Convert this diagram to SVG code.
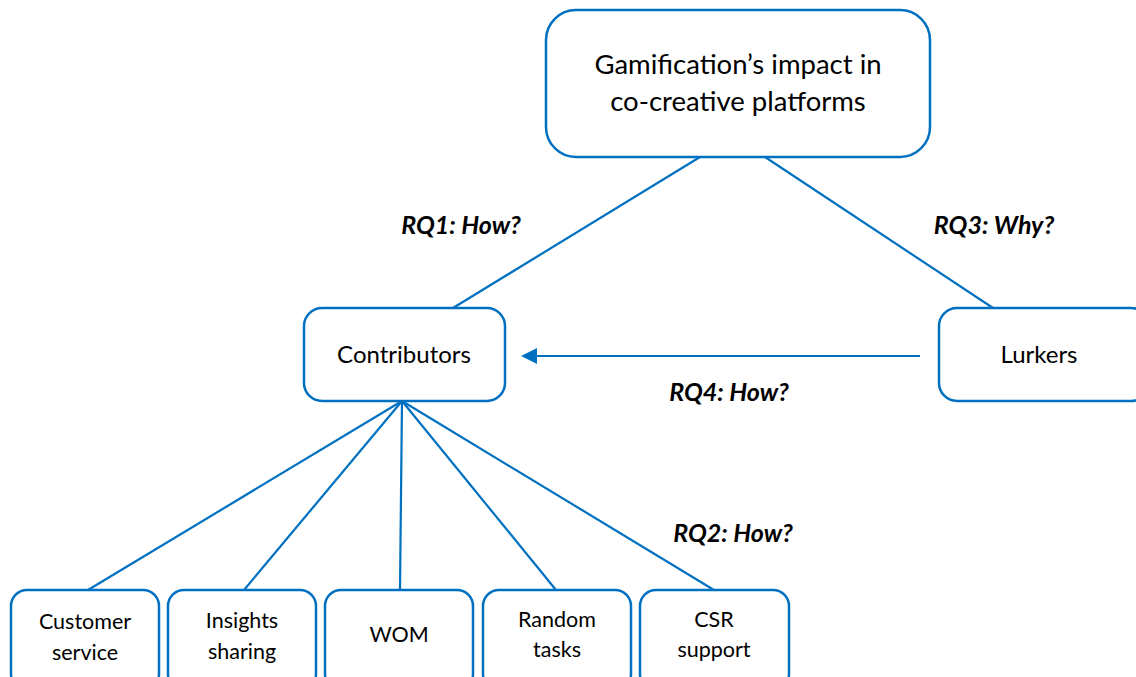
<svg xmlns="http://www.w3.org/2000/svg" width="1136" height="677" viewBox="0 0 1136 677">
  <style>
    .box { fill: #ffffff; stroke: #0070C0; stroke-width: 2.5; }
    .link { stroke: #0070C0; stroke-width: 2.2; fill: none; }
    .t { font-family: Lato, "Liberation Sans", sans-serif; fill: #000000; text-anchor: middle; }
    .rq { font-family: Lato, "Liberation Sans", sans-serif; font-weight: bold; font-style: italic; font-size: 25px; fill: #000000; text-anchor: middle; }
  </style>
  <rect width="1136" height="677" fill="#ffffff"/>

  <g id="connectors">
    <line class="link" x1="700" y1="157" x2="453" y2="308"/>
    <line class="link" x1="765" y1="157" x2="993" y2="308"/>
    <line class="link" x1="920" y1="356" x2="530" y2="356"/>
    <path d="M521,356 L537,348 L537,364 Z" fill="#0070C0"/>
    <line class="link" x1="402" y1="401" x2="88" y2="590"/>
    <line class="link" x1="402" y1="401" x2="244" y2="590"/>
    <line class="link" x1="402" y1="401" x2="400" y2="590"/>
    <line class="link" x1="402" y1="401" x2="556" y2="590"/>
    <line class="link" x1="402" y1="401" x2="714" y2="590"/>
  </g>

  <g id="labels">
    <text class="rq" x="461" y="234">RQ1: How?</text>
    <text class="rq" x="994" y="234">RQ3: Why?</text>
    <text class="rq" x="729" y="401">RQ4: How?</text>
    <text class="rq" x="733" y="542">RQ2: How?</text>
  </g>

  <g id="node-root">
    <rect class="box" x="546" y="10" width="384" height="147" rx="30"/>
    <text class="t" x="738" y="74" font-size="27.5">Gamification’s impact in</text>
    <text class="t" x="738" y="111" font-size="27.5">co-creative platforms</text>
  </g>

  <g id="node-contributors">
    <rect class="box" x="304" y="308" width="201" height="93" rx="18"/>
    <text class="t" x="404" y="363" font-size="24">Contributors</text>
  </g>

  <g id="node-lurkers">
    <rect class="box" x="939" y="308" width="210" height="93" rx="18"/>
    <text class="t" x="1039" y="363" font-size="24">Lurkers</text>
  </g>

  <g id="node-customer-service">
    <rect class="box" x="11" y="590" width="148" height="100" rx="16"/>
    <text class="t" x="85" y="629" font-size="21.5">Customer</text>
    <text class="t" x="85" y="660" font-size="21.5">service</text>
  </g>

  <g id="node-insights-sharing">
    <rect class="box" x="168" y="590" width="148" height="100" rx="16"/>
    <text class="t" x="242" y="628" font-size="21.5">Insights</text>
    <text class="t" x="242" y="659" font-size="21.5">sharing</text>
  </g>

  <g id="node-wom">
    <rect class="box" x="325" y="590" width="148" height="100" rx="16"/>
    <text class="t" x="399" y="642" font-size="21.5">WOM</text>
  </g>

  <g id="node-random-tasks">
    <rect class="box" x="483" y="590" width="148" height="100" rx="16"/>
    <text class="t" x="557" y="627" font-size="21.5">Random</text>
    <text class="t" x="557" y="657" font-size="21.5">tasks</text>
  </g>

  <g id="node-csr-support">
    <rect class="box" x="640" y="590" width="149" height="100" rx="16"/>
    <text class="t" x="714" y="627" font-size="21.5">CSR</text>
    <text class="t" x="714" y="657" font-size="21.5">support</text>
  </g>
</svg>
